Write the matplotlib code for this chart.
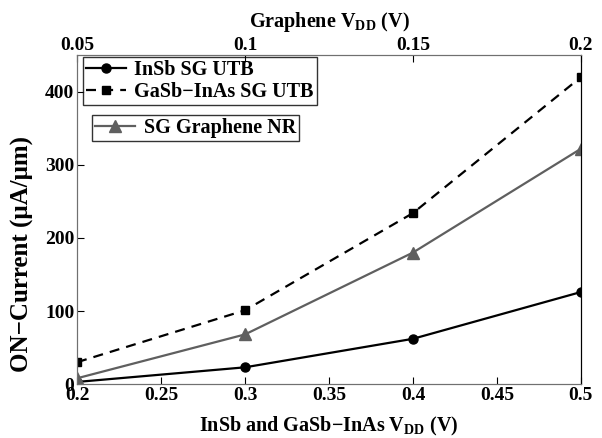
import matplotlib

matplotlib.use("Agg")

import matplotlib.pyplot as plt

plt.rcParams["font.family"] = "Liberation Serif"
plt.rcParams["font.weight"] = "bold"
plt.rcParams["mathtext.fontset"] = "custom"
plt.rcParams["mathtext.rm"] = "Liberation Serif:bold"
plt.rcParams["mathtext.bf"] = "Liberation Serif:bold"

vdd_bottom = [0.2, 0.3, 0.4, 0.5]
vdd_graphene = [0.05, 0.1, 0.15, 0.2]
insb_utb = [3, 23, 62, 126]
gasb_inas_utb = [30, 101, 234, 420]
graphene_nr = [8, 68, 180, 322]

bottom_ticks = [0.2, 0.25, 0.3, 0.35, 0.4, 0.45, 0.5]
top_ticks = [0.05, 0.1, 0.15, 0.2]
y_ticks = [0, 100, 200, 300, 400]

fig = plt.figure(figsize=(6.02, 4.38), dpi=100)
ax = fig.add_axes([0.128, 0.123, 0.837, 0.751])

ax.plot(vdd_bottom, insb_utb, color="black", linestyle="-", marker="o",
        markersize=6.5, linewidth=1.6, label="InSb SG UTB")
ax.plot(vdd_bottom, gasb_inas_utb, color="black", linestyle=(0, (4.5, 3.2)), marker="s",
        markersize=6, linewidth=1.6, label="GaSb\u2212InAs SG UTB")
ax.set_xlim(0.2, 0.5)
ax.set_ylim(0, 450)
ax.set_xticks(bottom_ticks)
ax.set_xticklabels([f"{t:g}" for t in bottom_ticks])
ax.set_yticks(y_ticks)
ax.set_xlabel(r"InSb and GaSb$-$InAs V$_{\rm DD}$ (V)", fontsize=14.5,
              fontweight="bold", labelpad=8)
ax.set_ylabel("ON\u2212Current (\u03bcA/\u03bcm)", fontsize=18, fontweight="bold")
ax.yaxis.set_label_coords(-0.085, 0.395)
ax.tick_params(direction="in", labelsize=14, length=5, pad=2)

leg1 = ax.legend(loc="upper left", bbox_to_anchor=(0.012, 0.994), fontsize=14.5,
                 frameon=True, fancybox=False, edgecolor="black",
                 handlelength=2.0, borderpad=0.15, labelspacing=0.1,
                 handletextpad=0.4, borderaxespad=0)
leg1.get_frame().set_linewidth(1.0)

ax2 = ax.twiny()
ax2.plot(vdd_graphene, graphene_nr, color="#5f5f5f", linestyle="-", marker="^",
         markersize=9, linewidth=1.6, label="SG Graphene NR")
ax2.set_xlim(0.05, 0.2)
ax2.set_xticks(top_ticks)
ax2.set_xticklabels([f"{t:g}" for t in top_ticks])
ax2.set_xlabel(r"Graphene V$_{\rm DD}$ (V)", fontsize=14.5, fontweight="bold", labelpad=7)
ax2.tick_params(direction="in", labelsize=14, length=5, pad=1)

leg2 = ax2.legend(loc="upper left", bbox_to_anchor=(0.03, 0.818), fontsize=14.5,
                  frameon=True, fancybox=False, edgecolor="black",
                  handlelength=2.0, borderpad=0.15, handletextpad=0.4,
                  borderaxespad=0)
leg2.get_frame().set_linewidth(1.0)

for a in (ax, ax2):
    for side in ("left", "bottom", "top"):
        a.spines[side].set_color("#707070")
    a.spines["right"].set_color("black")

for lbl in ax.get_xticklabels() + ax.get_yticklabels() + ax2.get_xticklabels():
    lbl.set_fontweight("bold")

fig.savefig("out.png", dpi=100)
plt.close(fig)
